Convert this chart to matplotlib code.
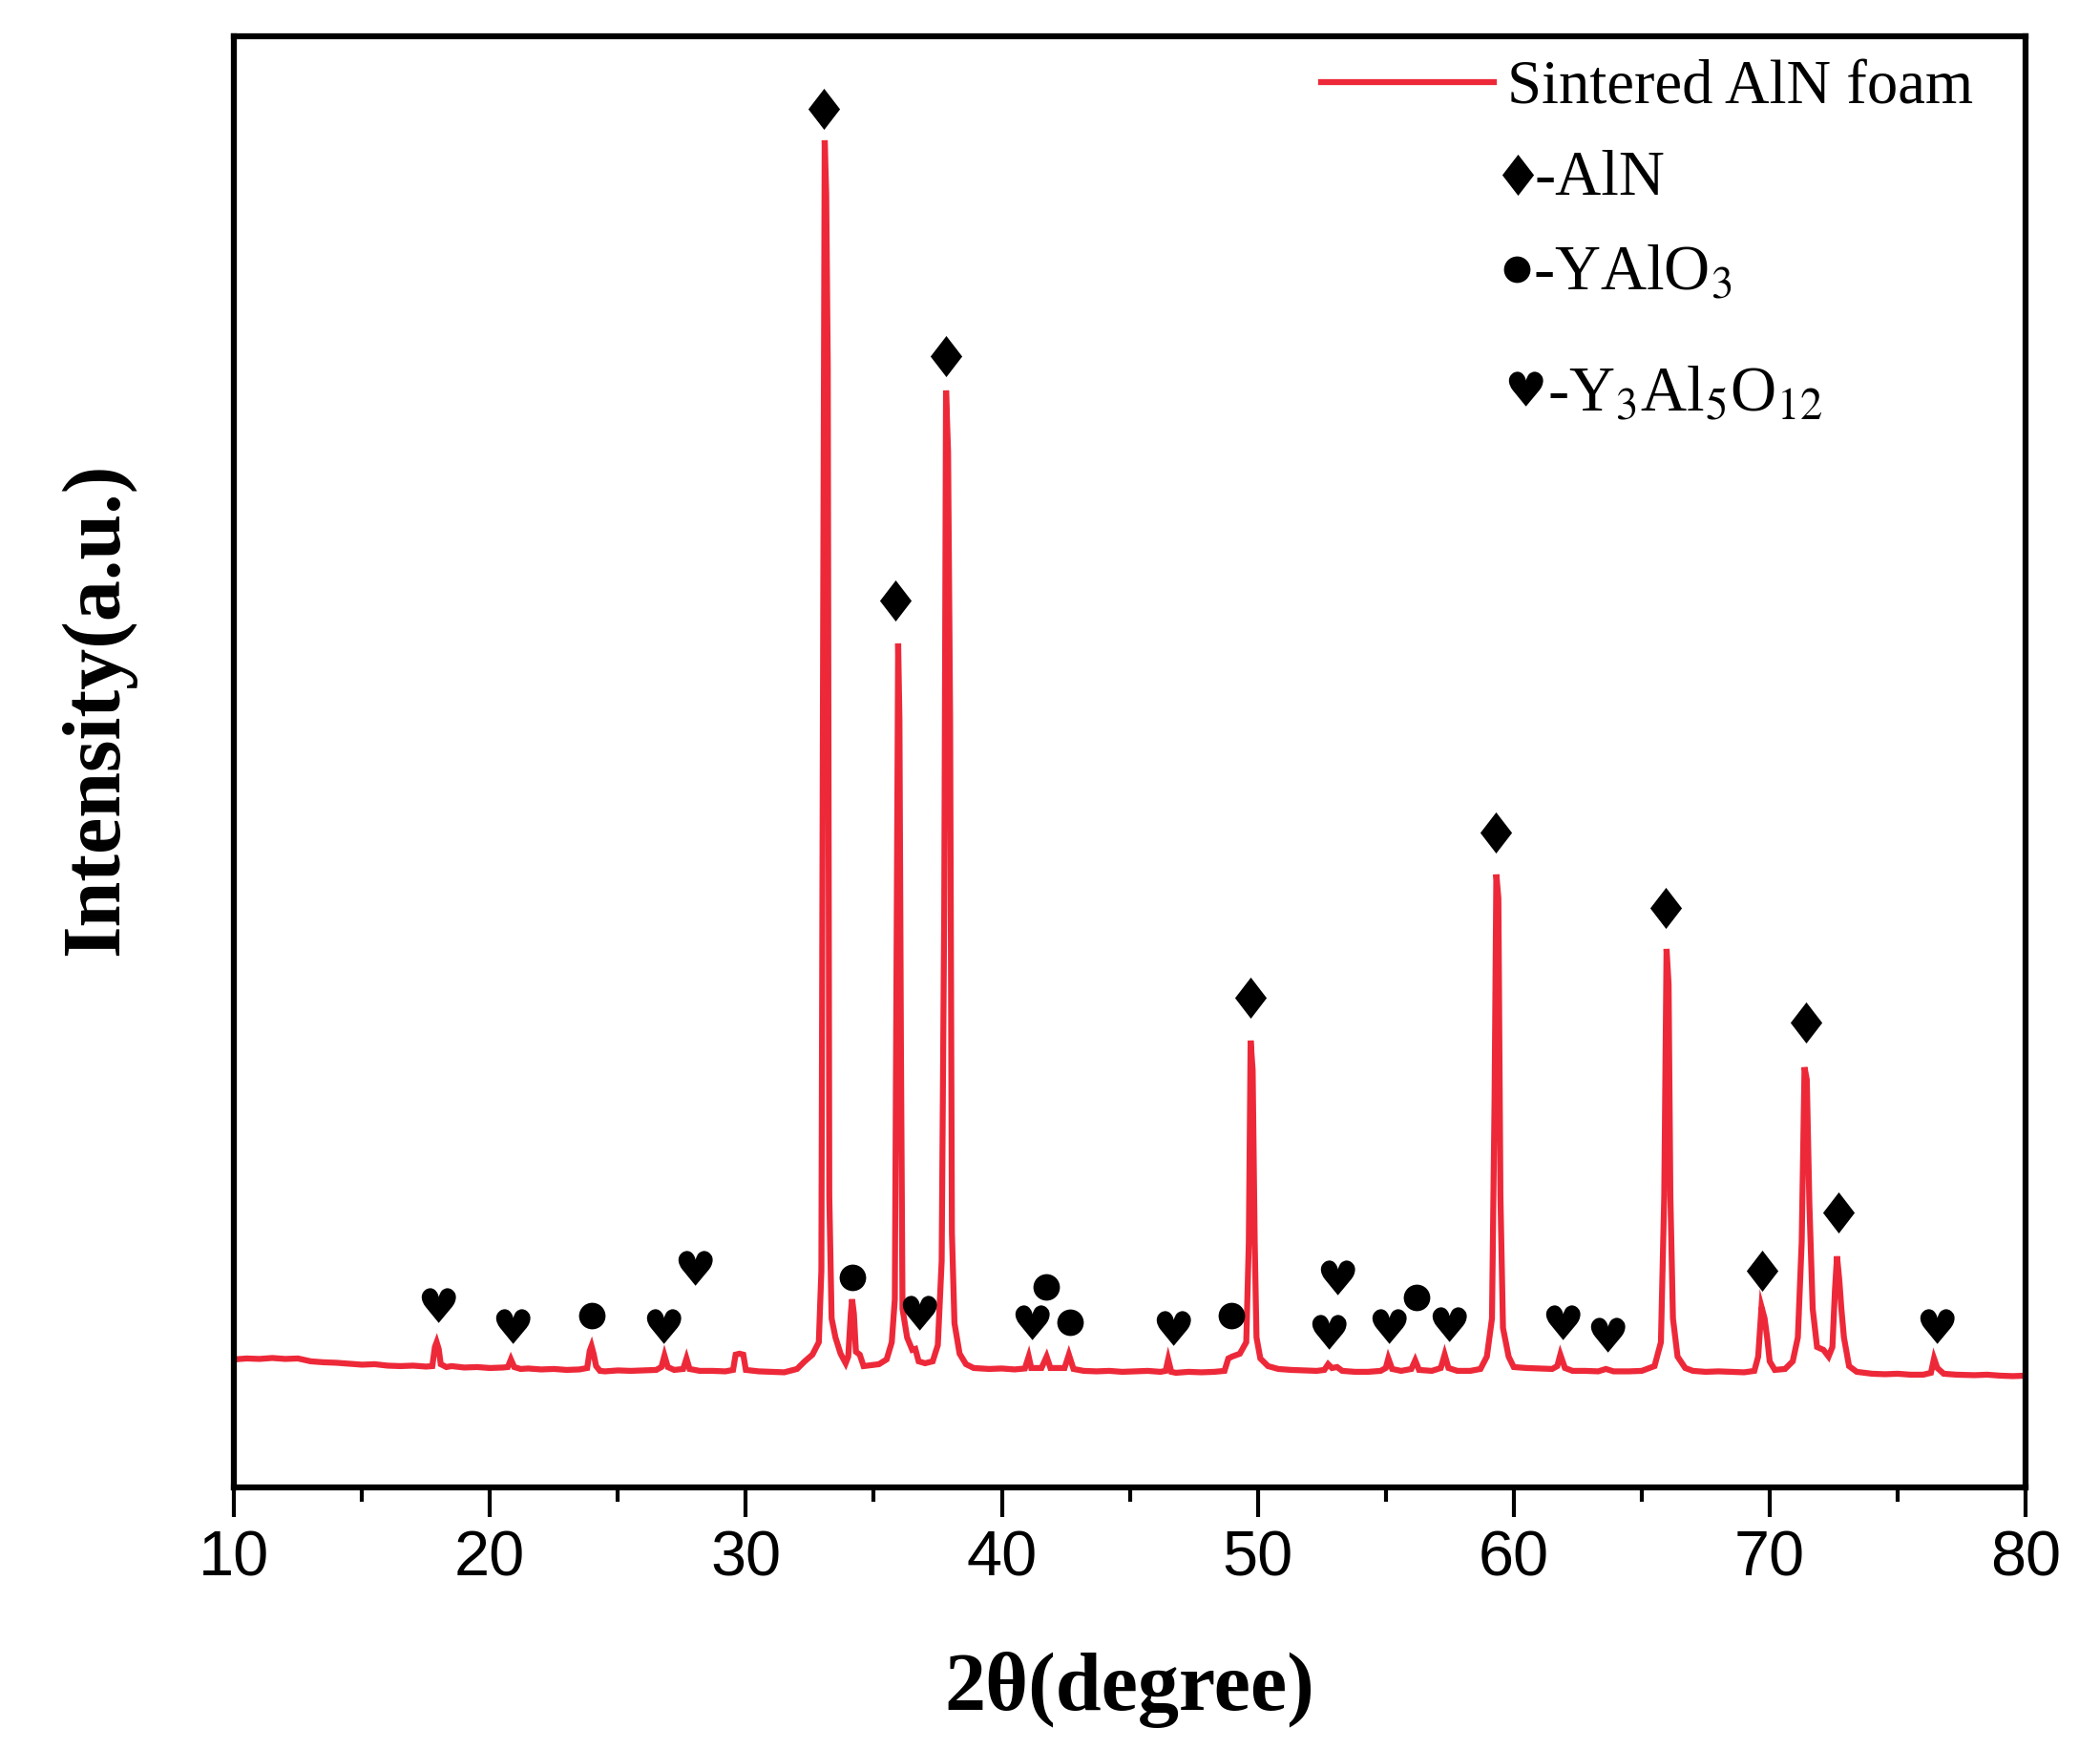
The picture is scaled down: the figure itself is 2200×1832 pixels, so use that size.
import matplotlib
matplotlib.use("Agg")
import matplotlib.pyplot as plt
import numpy as np
from matplotlib.font_manager import FontProperties
from matplotlib.lines import Line2D
from matplotlib.path import Path
from matplotlib.textpath import TextPath
from matplotlib.ticker import MultipleLocator

plt.rcParams["mathtext.fontset"] = "stix"

RED = "#ed2939"
SERIF = "Liberation Serif"
SANS = "Liberation Sans"

# XRD trace (2theta in degrees, intensity in a.u.)
two_theta = [
    10.0, 10.5, 11.0, 11.5, 12.0, 12.5, 13.0, 13.5, 14.0, 14.5, 15.0, 15.5, 16.0, 16.5, 17.0, 17.5,
    17.75, 17.85, 17.92, 18.0, 18.08, 18.3, 18.5, 19.0, 19.5, 20.0, 20.5, 20.7, 20.82, 20.95,
    21.2, 21.5, 22.0, 22.5, 23.0, 23.5, 23.8, 23.9, 23.97, 24.05, 24.15, 24.3, 24.5, 25.0, 25.5,
    26.0, 26.5, 26.7, 26.82, 26.95, 27.2, 27.55, 27.68, 27.8, 28.2, 28.7, 29.2, 29.5, 29.6, 29.75,
    29.9, 30.0, 30.5, 31.0, 31.5, 32.0, 32.3, 32.6, 32.85, 32.95, 33.02, 33.08, 33.14, 33.2, 33.26,
    33.35, 33.5, 33.7, 33.9, 34.0, 34.1, 34.15, 34.22, 34.3, 34.45, 34.6, 34.9, 35.2, 35.5, 35.7,
    35.82, 35.88, 35.95, 36.0, 36.06, 36.12, 36.3, 36.5, 36.62, 36.75, 37.0, 37.3, 37.5, 37.65,
    37.75, 37.82, 37.9, 37.98, 38.05, 38.15, 38.35, 38.6, 38.9, 39.5, 40.0, 40.5, 40.9, 41.05,
    41.15, 41.55, 41.75, 41.9, 42.45, 42.62, 42.8, 43.2, 43.7, 44.2, 44.7, 45.2, 45.7, 46.2, 46.4,
    46.5, 46.62, 46.8, 47.3, 47.8, 48.3, 48.7, 48.85, 49.0, 49.3, 49.55, 49.65, 49.72, 49.8, 49.88,
    49.95, 50.1, 50.4, 50.8, 51.3, 51.8, 52.3, 52.6, 52.75, 52.9, 53.1, 53.3, 53.8, 54.3, 54.8,
    55.0, 55.1, 55.25, 55.6, 56.0, 56.15, 56.3, 56.8, 57.15, 57.3, 57.45, 57.8, 58.3, 58.7, 58.95,
    59.15, 59.25, 59.32, 59.4, 59.48, 59.58, 59.8, 60.0, 60.5, 61.0, 61.5, 61.7, 61.82, 62.0, 62.3,
    62.8, 63.3, 63.6, 63.9, 64.5, 65.0, 65.5, 65.75, 65.88, 65.97, 66.05, 66.12, 66.22, 66.4, 66.7,
    67.0, 67.5, 68.0, 68.5, 69.0, 69.4, 69.55, 69.68, 69.8, 69.9, 70.0, 70.2, 70.6, 70.9, 71.1,
    71.25, 71.36, 71.45, 71.55, 71.68, 71.85, 72.1, 72.3, 72.45, 72.55, 72.63, 72.72, 72.8, 72.9,
    73.1, 73.4, 74.0, 74.5, 75.0, 75.5, 76.0, 76.3, 76.42, 76.55, 76.8, 77.3, 78.0, 78.5, 79.0,
    79.5, 80.0,
]
intensity = [
    1290, 1300, 1295, 1305, 1295, 1300, 1270, 1260, 1255, 1245, 1235, 1240, 1225, 1220, 1225, 1215,
    1220, 1420, 1470, 1400, 1240, 1210, 1220, 1205, 1210, 1200, 1205, 1210, 1290, 1210,
    1190, 1195, 1185, 1190, 1180, 1185, 1200, 1380, 1430, 1350, 1220, 1170, 1165, 1175, 1170,
    1175, 1180, 1210, 1330, 1210, 1180, 1190, 1300, 1190, 1170, 1170, 1165, 1180, 1340, 1350,
    1340, 1180, 1165, 1160, 1155, 1190, 1270, 1340, 1470, 2220, 9000, 14060, 13490, 11700, 3000,
    1720, 1520, 1350, 1250, 1320, 1770, 1920, 1770, 1370, 1340, 1220, 1230, 1240, 1290, 1470,
    1920, 5000, 8790, 8000, 4500, 1820, 1520, 1390, 1400, 1270, 1250, 1270, 1440, 2320,
    6000, 11440, 10800, 8000, 2620, 1670, 1350, 1240, 1200, 1190, 1195, 1185, 1195, 1320,
    1200, 1200, 1320, 1200, 1200, 1340, 1190, 1170, 1165, 1170, 1160, 1165, 1170, 1160, 1170,
    1290, 1160, 1150, 1160, 1155, 1160, 1170, 1300, 1320, 1350, 1470, 2520, 4630, 4320, 2520,
    1520, 1300, 1220, 1190, 1180, 1175, 1170, 1180, 1240, 1200, 1210, 1170, 1160, 1160, 1170,
    1200, 1300, 1190, 1170, 1190, 1280, 1180, 1170, 1200, 1340, 1200, 1170, 1170, 1190, 1320,
    1720, 4000, 6370, 6120, 3000, 1620, 1320, 1210, 1200, 1195, 1190, 1220, 1340, 1200, 1170,
    1170, 1165, 1190, 1165, 1165, 1170, 1220, 1470, 3000, 5590, 5220, 3000, 1720, 1320, 1200,
    1170, 1160, 1165, 1160, 1155, 1170, 1320, 1840, 1720, 1520, 1270, 1180, 1190, 1270, 1520,
    2520, 4350, 4220, 2920, 1820, 1420, 1390, 1320, 1420, 2020, 2370, 2120, 1820, 1520,
    1220, 1160, 1140, 1135, 1140, 1130, 1130, 1150, 1300, 1200, 1140, 1130, 1125, 1130, 1120,
    1115, 1120,
]

# phase markers (peak position, marker height)
aln_x = [33.05, 35.85, 37.8, 49.72, 59.3, 65.95, 69.72, 71.4, 72.68]
aln_y = [14390, 9240, 11800, 5080, 6810, 6020, 2220, 4820, 2830]
yalo3_x = [23.97, 34.15, 41.75, 42.68, 48.95, 56.2]
yalo3_y = [1750, 2150, 2050, 1680, 1750, 1940]
yag_x = [17.9, 20.8, 26.72, 27.95, 36.7, 41.1, 46.6, 52.7, 53.05, 55.05, 57.38, 61.85, 63.58, 76.45]
yag_y = [1860, 1640, 1640, 2250, 1780, 1680, 1620, 1580, 2150, 1640, 1660, 1680, 1550, 1640]


def glyph_marker(char, family="DejaVu Sans"):
    tp = TextPath((0, 0), char, size=1, prop=FontProperties(family=family))
    verts = tp.vertices.copy()
    lo, hi = verts.min(axis=0), verts.max(axis=0)
    verts -= (lo + hi) / 2
    return Path(verts, tp.codes)


DIAMOND = Path([(0, 0.5), (0.385, 0), (0, -0.5), (-0.385, 0), (0, 0.5)],
               [Path.MOVETO, Path.LINETO, Path.LINETO, Path.LINETO, Path.CLOSEPOLY])
HEART = glyph_marker("\u2665")

fig = plt.figure(figsize=(22, 18.32), dpi=100)
ax = fig.add_axes([0.1114, 0.1496, 0.8532, 0.8297])

ax.plot(two_theta, intensity, color=RED, lw=4.5, solid_joinstyle="miter")

mk = dict(ls="none", color="black", markeredgewidth=0)
ax.plot(aln_x, aln_y, marker=DIAMOND, ms=31, **mk)
ax.plot(yalo3_x, yalo3_y, marker="o", ms=20, **mk)
ax.plot(yag_x, yag_y, marker=HEART, ms=29, **mk)

ax.set_xlim(10, 80)
ax.set_ylim(-50, 15150)
ax.set_yticks([])
ax.xaxis.set_major_locator(MultipleLocator(10))
ax.xaxis.set_minor_locator(MultipleLocator(5))
ax.tick_params(axis="x", which="major", direction="out", length=22, width=3, pad=10, labelsize=48)
ax.tick_params(axis="x", which="minor", direction="out", length=11, width=3)
for lab in ax.get_xticklabels():
    lab.set_fontfamily(SANS)
for sp in ax.spines.values():
    sp.set_linewidth(4.5)

ax.set_xlabel("2\u03b8(degree)", fontsize=62, fontweight="bold", family=SERIF)
ax.set_ylabel("Intensity(a.u.)", fontsize=62, fontweight="bold", family=SERIF)
ax.xaxis.set_label_coords(0.5, -0.113)
ax.yaxis.set_label_coords(-0.055, 0.536)

handle = Line2D([], [], color=RED, lw=4.5)
ax.legend([handle], ["Sintered AlN foam"], loc="center left", bbox_to_anchor=(0.607, 0.964),
          frameon=False, borderpad=0, borderaxespad=0, handlelength=2.8, handletextpad=0.22,
          prop=FontProperties(family=SERIF, size=46.5))

# phase key
key = [
    (DIAMOND, 31, 0.7165, 0.9045, "-AlN", 0.726, 0.8905),
    ("o", 20, 0.716, 0.8395, "-YAlO$_\\mathrm{3}$", 0.725, 0.8256),
    (HEART, 29, 0.7195, 0.757, "-Y$_\\mathrm{3}$Al$_\\mathrm{5}$O$_\\mathrm{12}$", 0.733, 0.742),
]
for marker, size, mx, my, label, tx, ty in key:
    ax.plot([mx], [my], marker=marker, ms=size, transform=ax.transAxes, clip_on=False, **mk)
    ax.text(tx, ty, label, transform=ax.transAxes, fontsize=48, family=SERIF, va="baseline")

fig.savefig("out.png", dpi=100)
